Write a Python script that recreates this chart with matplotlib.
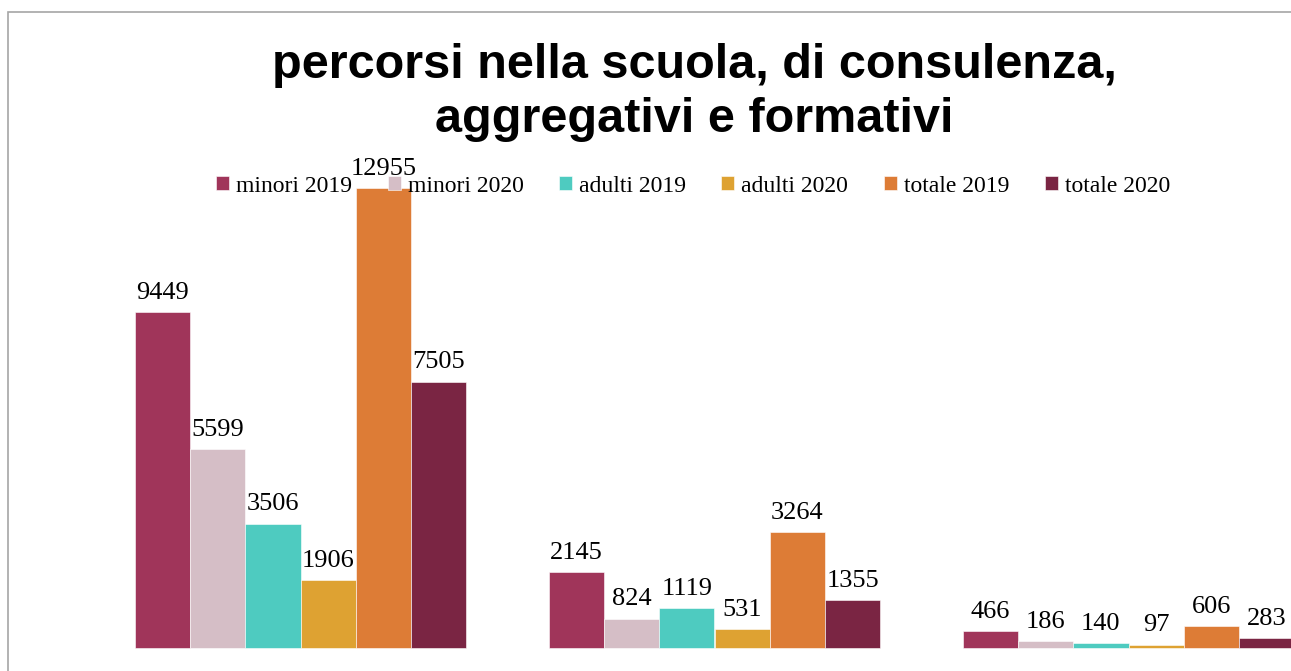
import matplotlib.pyplot as plt
from matplotlib.patches import Rectangle
import numpy as np

# tre gruppi di percorsi, sei serie ciascuno
gruppi = ["percorsi nella scuola", "consulenza", "aggregativi e formativi"]
serie = ["minori 2019", "minori 2020", "adulti 2019", "adulti 2020", "totale 2019", "totale 2020"]
minori_2019 = [9449, 2145, 466]
minori_2020 = [5599, 824, 186]
adulti_2019 = [3506, 1119, 140]
adulti_2020 = [1906, 531, 97]
totale_2019 = [12955, 3264, 606]
totale_2020 = [7505, 1355, 283]
valori = [minori_2019, minori_2020, adulti_2019, adulti_2020, totale_2019, totale_2020]
colori = ["#A0355A", "#D5BEC6", "#4ECBC0", "#DEA232", "#DD7C36", "#7A2543"]
titolo = ["percorsi nella scuola, di consulenza,", "aggregativi e formativi"]

W, H = 1291, 671
fig = plt.figure(figsize=(W / 100, H / 100), dpi=100)

# area del grafico: passo tra gruppi 414 px, base a y=648 px
passo = 414.0
x0 = 93.5
ymax = 14000
alt_px = ymax * 460 / 12955
ax = fig.add_axes([x0 / W, (H - 648) / H, (W - x0) / W, alt_px / H])
ax.set_xlim(-0.5, -0.5 + (W - x0) / passo)
ax.set_ylim(0, ymax)
ax.axis("off")

x = np.arange(len(gruppi))
larg = 0.8 / len(serie)
for i, (nome, v, c) in enumerate(zip(serie, valori, colori)):
    pos = x - 0.4 + larg * (i + 0.5)
    ax.bar(pos, v, larg, color=c, label=nome, edgecolor="white", linewidth=0.4, clip_on=False)
    for px, val in zip(pos, v):
        ax.annotate(str(val), (px, val), xytext=(0, 6), textcoords="offset points",
                    ha="center", va="bottom", fontsize=19, family="Liberation Serif",
                    annotation_clip=False)

leg = ax.legend(loc="center", bbox_to_anchor=(693 / W, 1 - 186 / H),
                bbox_transform=fig.transFigure, ncol=6, frameon=False,
                prop={"family": "Liberation Serif", "size": 17},
                handlelength=0.55, handleheight=0.55, handletextpad=0.3, columnspacing=1.5)
leg.set_zorder(5)

# titolo su due righe
for riga, yb in zip(titolo, [78, 132]):
    fig.text(694 / W, 1 - yb / H, riga, ha="center", va="baseline", fontsize=35,
             fontweight="bold", family="Liberation Sans")

# cornice grigia
fig.add_artist(Rectangle((8 / W, -0.1), 1.2, 1.1 - 12 / H, transform=fig.transFigure,
                         fill=False, edgecolor="#A6A6A6", linewidth=1.2))

fig.savefig("out.png", dpi=100)
